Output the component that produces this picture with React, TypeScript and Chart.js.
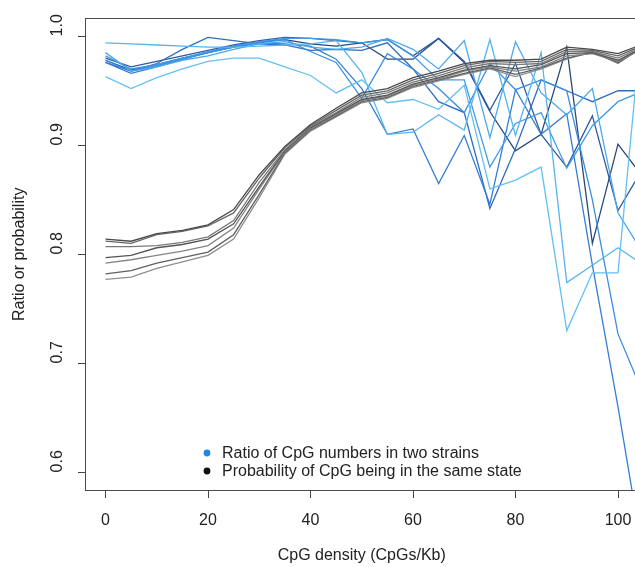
import React, { useEffect, useRef } from 'react';
import { Chart, registerables } from 'chart.js';

Chart.register(...registerables);

// x positions (CpG density, CpGs/Kb)
const densities = [0, 5, 10, 15, 20, 25, 30, 35, 40, 45, 50, 55, 60, 65, 70, 75, 80, 85, 90, 95, 100, 105];

// Probability of CpG being in the same state (gray/black lines)
const probA = [0.814, 0.812, 0.819, 0.822, 0.827, 0.841, 0.873, 0.899, 0.919, 0.934, 0.948, 0.952, 0.962, 0.968, 0.975, 0.978, 0.978, 0.979, 0.990, 0.988, 0.984, 0.993];
const probB = [0.812, 0.810, 0.818, 0.821, 0.826, 0.838, 0.870, 0.898, 0.918, 0.932, 0.946, 0.950, 0.960, 0.966, 0.973, 0.977, 0.976, 0.977, 0.988, 0.987, 0.982, 0.992];
const probC = [0.807, 0.807, 0.808, 0.811, 0.816, 0.831, 0.866, 0.896, 0.917, 0.930, 0.944, 0.948, 0.958, 0.964, 0.971, 0.975, 0.974, 0.975, 0.986, 0.986, 0.980, 0.991];
const probD = [0.797, 0.799, 0.806, 0.809, 0.814, 0.828, 0.862, 0.895, 0.916, 0.929, 0.942, 0.946, 0.956, 0.962, 0.969, 0.973, 0.970, 0.974, 0.984, 0.985, 0.978, 0.990];
const probE = [0.792, 0.795, 0.799, 0.803, 0.808, 0.824, 0.860, 0.894, 0.915, 0.928, 0.941, 0.945, 0.955, 0.961, 0.968, 0.972, 0.968, 0.972, 0.982, 0.984, 0.977, 0.989];
const probF = [0.782, 0.785, 0.792, 0.797, 0.802, 0.818, 0.855, 0.893, 0.914, 0.927, 0.940, 0.944, 0.954, 0.960, 0.966, 0.971, 0.965, 0.971, 0.980, 0.985, 0.976, 0.990];
const probG = [0.777, 0.779, 0.787, 0.793, 0.799, 0.814, 0.852, 0.892, 0.913, 0.926, 0.939, 0.943, 0.953, 0.959, 0.965, 0.970, 0.963, 0.970, 0.979, 0.986, 0.975, 0.991];

// Ratio of CpG numbers in two strains (blue lines)
const ratioA = [0.963, 0.952, 0.962, 0.970, 0.977, 0.980, 0.980, 0.972, 0.964, 0.948, 0.960, 0.939, 0.942, 0.933, 0.955, 0.860, 0.868, 0.880, 0.730, 0.783, 0.783, 1.030];
const ratioB = [0.994, 0.993, 0.992, 0.991, 0.990, 0.990, 0.991, 0.992, 0.993, 0.996, 0.967, 0.910, 0.912, 0.928, 0.914, 0.997, 0.909, 0.985, 0.774, 0.790, 0.806, 0.790];
const ratioC = [0.985, 0.968, 0.972, 0.978, 0.982, 0.988, 0.993, 0.995, 0.990, 0.988, 0.990, 0.998, 0.988, 0.970, 0.996, 0.907, 0.995, 0.948, 0.928, 0.952, 0.838, 0.800];
const ratioD = [0.982, 0.970, 0.974, 0.980, 0.986, 0.991, 0.995, 0.998, 0.998, 0.997, 0.994, 0.997, 0.982, 0.960, 0.960, 0.880, 0.920, 0.930, 0.879, 0.918, 0.940, 0.950];
const ratioE = [0.978, 0.968, 0.973, 0.979, 0.985, 0.990, 0.994, 0.997, 0.986, 0.976, 0.943, 0.984, 0.970, 0.952, 0.930, 0.975, 0.951, 0.960, 0.950, 0.850, 0.727, 0.671];
const ratioF = [0.976, 0.966, 0.972, 0.979, 0.985, 0.990, 0.994, 0.993, 0.991, 0.979, 0.952, 0.910, 0.915, 0.865, 0.909, 0.846, 0.951, 0.910, 0.929, 0.790, 0.660, 0.520];
const ratioG = [0.976, 0.968, 0.975, 0.988, 0.999, 0.996, 0.993, 0.992, 0.987, 0.988, 0.987, 0.994, 0.970, 0.940, 0.930, 0.842, 0.897, 0.960, 0.950, 0.940, 0.950, 0.950];
const ratioH = [0.980, 0.972, 0.977, 0.982, 0.987, 0.992, 0.996, 0.999, 0.998, 0.996, 0.994, 0.997, 0.982, 0.998, 0.977, 0.932, 0.975, 0.910, 0.880, 0.927, 0.840, 0.880];
const ratioI = [0.978, 0.969, 0.974, 0.980, 0.985, 0.991, 0.995, 0.997, 0.993, 0.991, 0.994, 0.979, 0.979, 0.998, 0.976, 0.931, 0.895, 0.910, 0.990, 0.810, 0.901, 0.870];

const probSeries = [probA, probB, probC, probD, probE, probF, probG];
const probColors = ['#4a4a4a', '#666666', '#7a7a7a', '#555555', '#858585', '#606060', '#8f8f8f'];

const ratioSeries = [ratioA, ratioB, ratioC, ratioD, ratioE, ratioF, ratioG, ratioH, ratioI];
const ratioColors = ['#63C0F2', '#56B4EE', '#4AA8EC', '#409BE7', '#3A8DE0', '#347ED5', '#306DC1', '#2D5CA3', '#2B4876'];

const xTicks = [0, 20, 40, 60, 80, 100];
const yTicks = [0.6, 0.7, 0.8, 0.9, 1.0];

const legendLabels = ['Ratio of CpG numbers in two strains', 'Probability of CpG being in the same state'];
const legendColors = ['#1E88E5', '#111111'];

const xTitle = 'CpG density (CpGs/Kb)';
const yTitle = 'Ratio or probability';

const FONT = '"Liberation Sans", Arial, Helvetica, sans-serif';
const FS = 16;

const framePlugin = {
  id: 'frameAndLegend',
  afterDatasetsDraw(chart: any) {
    const { ctx, chartArea: a } = chart;
    ctx.save();
    ctx.strokeStyle = '#4a4a4a';
    ctx.lineWidth = 1;
    const L = Math.round(a.left - 0.5) + 0.5;
    const T = Math.round(a.top - 0.5) + 0.5;
    const R = Math.round(a.right - 0.5) + 0.5;
    const B = Math.round(a.bottom - 0.5) + 0.5;
    ctx.strokeRect(L, T, R - L, B - T);

    ctx.font = `${FS}px ${FONT}`;
    ctx.textBaseline = 'middle';
    ctx.textAlign = 'left';
    legendLabels.forEach((label, i) => {
      const y = a.bottom - 37 + i * 18;
      ctx.fillStyle = legendColors[i];
      ctx.beginPath();
      ctx.arc(a.left + 122, y, 3.4, 0, Math.PI * 2);
      ctx.fill();
      ctx.fillStyle = '#222';
      ctx.fillText(label, a.left + 137, y + 1);
    });
    ctx.restore();
  },
};

export default function App() {
  const ref = useRef<HTMLCanvasElement | null>(null);

  useEffect(() => {
    if (!ref.current) return;
    const datasets: any[] = [];
    ratioSeries.forEach((s, i) => {
      datasets.push({
        label: 'ratio' + i,
        data: s.map((v, j) => ({ x: densities[j], y: v })),
        borderColor: ratioColors[i],
        borderWidth: 1.3,
        pointRadius: 0,
        tension: 0,
        order: 2,
      });
    });
    probSeries.forEach((s, i) => {
      datasets.push({
        label: 'prob' + i,
        data: s.map((v, j) => ({ x: densities[j], y: v })),
        borderColor: probColors[i],
        borderWidth: 1.3,
        pointRadius: 0,
        tension: 0,
        order: 1,
      });
    });

    const chart = new Chart(ref.current, {
      type: 'line',
      data: { datasets },
      plugins: [framePlugin],
      options: {
        responsive: false,
        animation: false,
        devicePixelRatio: 1,
        layout: { padding: { top: 9, right: 61.5, bottom: 0, left: 0 } },
        plugins: { legend: { display: false }, tooltip: { enabled: false } },
        scales: {
          x: {
            type: 'linear',
            min: -4,
            max: 104,
            afterBuildTicks: (s: any) => {
              s.ticks = xTicks.map((v) => ({ value: v }));
            },
            afterFit: (s: any) => {
              s.height = 77;
            },
            grid: { drawOnChartArea: false, tickLength: 8, color: '#444', tickColor: '#444' },
            border: { display: true, color: '#4a4a4a' },
            ticks: {
              padding: 13,
              color: '#222',
              font: { family: FONT, size: FS },
              maxRotation: 0,
              autoSkip: false,
              callback: (v: any) => String(v),
            },
            title: {
              display: true,
              text: xTitle,
              color: '#222',
              font: { family: FONT, size: FS },
              padding: { top: 0, bottom: 2 },
            },
          },
          y: {
            type: 'linear',
            min: 0.5838,
            max: 1.0162,
            afterBuildTicks: (s: any) => {
              s.ticks = yTicks.map((v) => ({ value: v }));
            },
            afterFit: (s: any) => {
              s.width = 85;
            },
            grid: { drawOnChartArea: false, tickLength: 7, color: '#444', tickColor: '#444' },
            border: { display: true, color: '#4a4a4a' },
            ticks: {
              padding: 9,
              color: '#222',
              font: { family: FONT, size: FS },
              minRotation: 90,
              maxRotation: 90,
              crossAlign: 'center',
              labelOffset: -11,
              autoSkip: false,
              callback: (v: any) => Number(v).toFixed(1),
            },
            title: {
              display: true,
              text: yTitle,
              color: '#222',
              font: { family: FONT, size: FS },
              padding: { top: 10, bottom: 0 },
            },
          },
        },
      } as any,
    });
    return () => chart.destroy();
  }, []);

  return (
    <div style={{ position: 'absolute', left: 0, top: 0, width: 635, height: 567, overflow: 'hidden', background: '#fff' }}>
      <canvas ref={ref} width={700} height={567} style={{ display: 'block' }} />
    </div>
  );
}
